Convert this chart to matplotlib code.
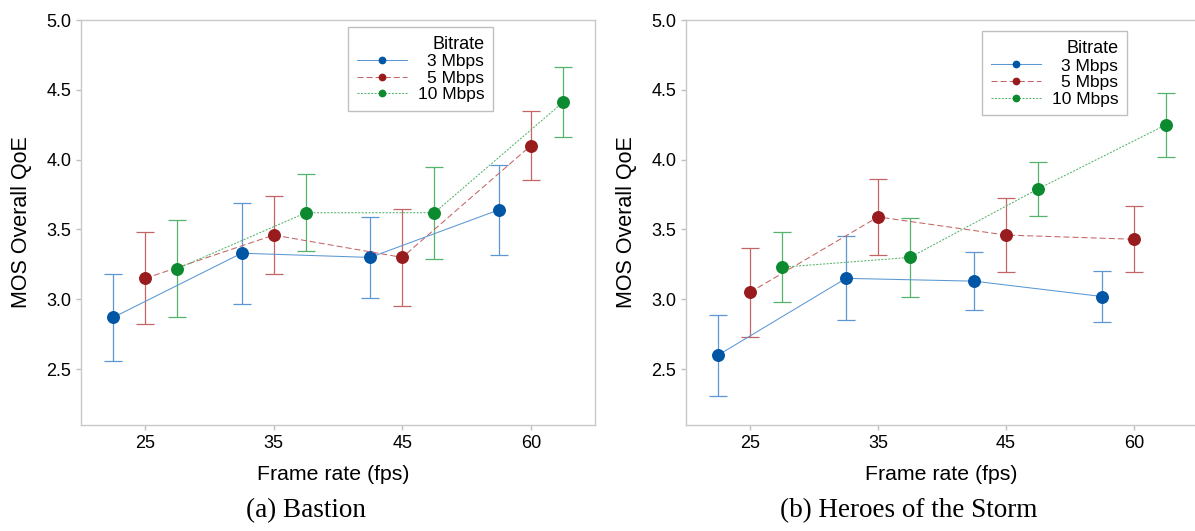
import matplotlib.pyplot as plt

plt.rcParams['font.family'] = ['Liberation Sans', 'DejaVu Sans']

frame_rates = ['25', '35', '45', '60']
bitrates = ['3 Mbps', '5 Mbps', '10 Mbps']

# Bastion: MOS and half width of the confidence interval
bastion_3 = [2.87, 3.33, 3.30, 3.64]
bastion_3_ci = [0.31, 0.36, 0.29, 0.32]
bastion_5 = [3.15, 3.46, 3.30, 4.10]
bastion_5_ci = [0.33, 0.28, 0.345, 0.245]
bastion_10 = [3.22, 3.62, 3.62, 4.41]
bastion_10_ci = [0.345, 0.275, 0.33, 0.25]

# Heroes of the Storm
heroes_3 = [2.60, 3.15, 3.13, 3.02]
heroes_3_ci = [0.29, 0.30, 0.21, 0.185]
heroes_5 = [3.05, 3.59, 3.46, 3.43]
heroes_5_ci = [0.32, 0.275, 0.265, 0.235]
heroes_10 = [3.23, 3.30, 3.79, 4.25]
heroes_10_ci = [0.25, 0.285, 0.195, 0.23]

line_colors = ['#5b97d3', '#c46464', '#55b36a']
marker_colors = ['#0055a5', '#981b1e', '#0b8a2f']
dashes = [None, (5.8, 2.9), (1.9, 1.4)]
offsets = [-0.25, 0.0, 0.25]

W, H = 1195, 531
fig = plt.figure(figsize=(W / 100, H / 100), dpi=100)
ax1 = fig.add_axes([81 / W, 1 - 425 / H, 514 / W, 405 / H])
ax2 = fig.add_axes([686 / W, 1 - 425 / H, 512 / W, 405 / H])

panels = [
    (ax1, [bastion_3, bastion_5, bastion_10], [bastion_3_ci, bastion_5_ci, bastion_10_ci],
     (0.8016, 0.983), 0.49),
    (ax2, [heroes_3, heroes_5, heroes_10], [heroes_3_ci, heroes_5_ci, heroes_10_ci],
     (0.861, 0.972), 0.498),
]

legs = []
for ax, series, cis, leg_pos, xlab_x in panels:
    for i in range(3):
        xs = [j + offsets[i] for j in range(len(frame_rates))]
        ax.errorbar(xs, series[i], yerr=cis[i], fmt='none', ecolor=line_colors[i],
                    elinewidth=0.9, capsize=6.4, capthick=0.9, zorder=2)
        ln, = ax.plot(xs, series[i], color=line_colors[i], lw=0.75, marker='o',
                      ms=8.3, mfc=marker_colors[i], mec=marker_colors[i],
                      label=bitrates[i], zorder=3)
        if dashes[i] is not None:
            ln.set_dashes(dashes[i])

    ax.set_xlim(-0.5, 3.5)
    ax.set_ylim(2.1, 5.0)
    ax.set_xticks(range(len(frame_rates)))
    ax.set_xticklabels(frame_rates, fontsize=13)
    ax.set_yticks([2.5, 3.0, 3.5, 4.0, 4.5, 5.0])
    ax.set_yticklabels(['2.5', '3.0', '3.5', '4.0', '4.5', '5.0'], fontsize=13)
    ax.tick_params(length=3.5, width=1, color='#c0c0c0', pad=3.5)
    for s in ax.spines.values():
        s.set_color('#c8c8c8')
        s.set_linewidth(1)

    ax.set_xlabel('Frame rate (fps)', fontsize=15.3)
    ax.set_ylabel('MOS Overall QoE', fontsize=15.5)
    ax.xaxis.set_label_coords(xlab_x, -0.098)
    ax.yaxis.set_label_coords(-0.096, 0.5)

    leg = ax.legend(title='Bitrate', loc='upper right', bbox_to_anchor=leg_pos,
                    borderaxespad=0, fontsize=12.5, title_fontsize=13,
                    alignment='right', fancybox=False, framealpha=1,
                    edgecolor='#c0c0c0', handlelength=2.9, handletextpad=0.6,
                    labelspacing=0.08, markerscale=0.55, borderpad=0.5)
    leg.get_frame().set_linewidth(1)
    legs.append(leg)

# right-align the legend labels while keeping the handles on the left
fig.canvas.draw()
for leg in legs:
    texts = leg.get_texts()
    widths = [t.get_window_extent().width for t in texts]
    wmax = max(widths)
    rows = [r for col in leg._legend_handle_box.get_children() for r in col.get_children()]
    for row, w in zip(rows, widths):
        row.sep = row.sep + (wmax - w) * 72 / fig.dpi

fig.text(306 / W, 1 - 516.7 / H, '(a) Bastion', family='Liberation Serif',
         fontsize=19.5, ha='center', va='baseline')
fig.text(909 / W, 1 - 516.7 / H, '(b) Heroes of the Storm', family='Liberation Serif',
         fontsize=19.5, ha='center', va='baseline')

fig.savefig('out.png', dpi=100)
